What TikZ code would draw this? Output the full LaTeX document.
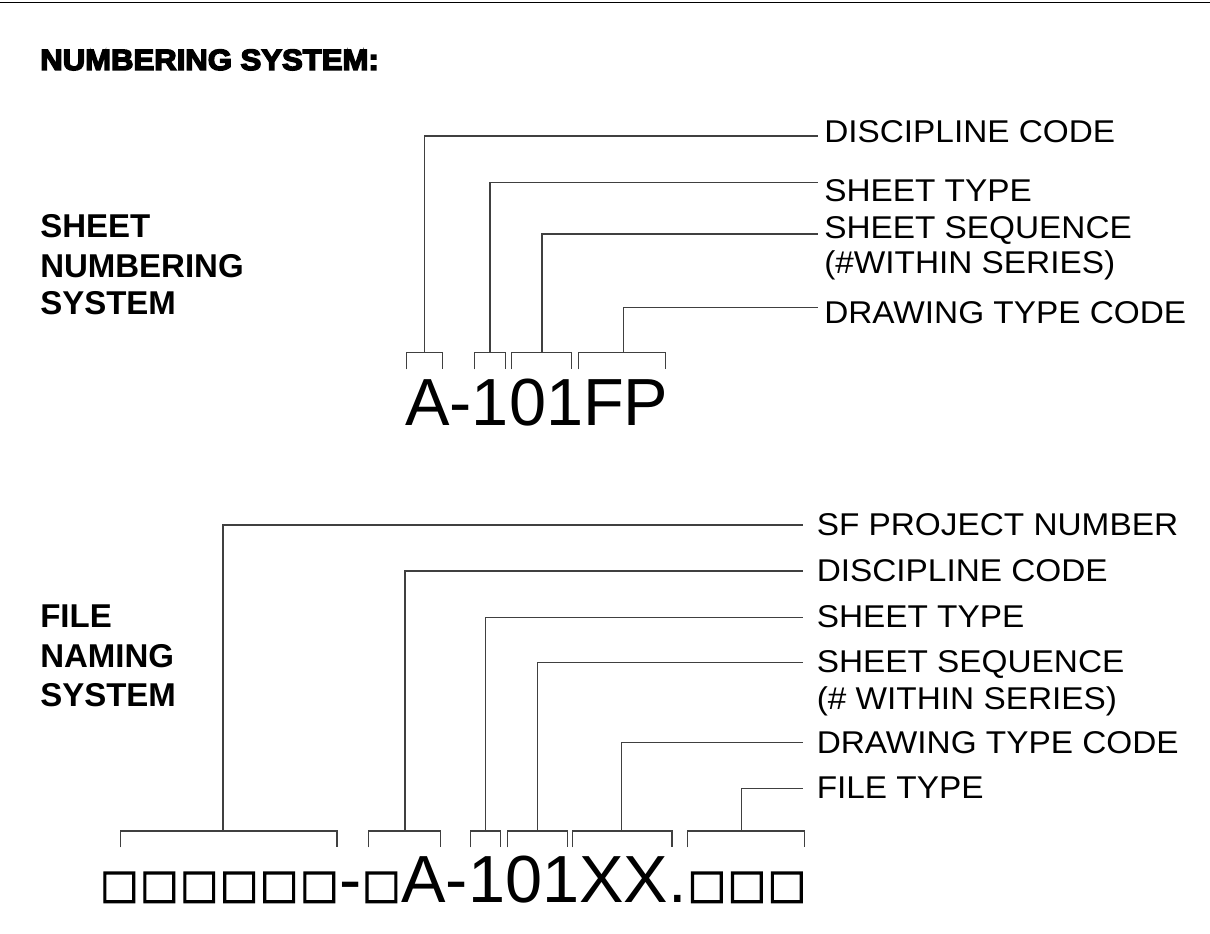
\documentclass[tikz,border=0pt]{standalone}
\usepackage{fontspec}
\setmainfont{Liberation Sans}
\newfontfamily\lblfont[FakeStretch=1.06]{Liberation Sans}
\newfontfamily\boldfont{Liberation Sans Bold}
\newfontfamily\titlefont[FakeBold=5,FakeStretch=1.06]{Liberation Sans Bold}
\newfontfamily\boxfont[FakeBold=2.5]{Liberation Sans}
\newcommand\sqbox{\makebox[30pt][c]{\boxfont\fontsize{38.5}{40}\selectfont □}}
\begin{document}
\begin{tikzpicture}[x=0.75pt,y=-0.75pt,
  lbl/.style={font=\lblfont\fontsize{23.6}{28}\selectfont, inner sep=0pt, anchor=base west},
  side/.style={font=\boldfont\fontsize{24.75}{30}\selectfont, inner sep=0pt, anchor=base west},
  code/.style={font=\fontsize{50}{60}\selectfont, inner sep=0pt, anchor=base west},
  ttl/.style={font=\titlefont\fontsize{22}{26}\selectfont, inner sep=0pt, anchor=base west},
  brk/.style={draw=black!75, line width=0.8pt}]
\useasboundingbox (0,0) rectangle (1210,934);
\draw[line width=1.1pt] (0,2.5) -- (1210,2.5);

% title
\node[ttl] (title) at (40,70) {NUMBERING SYSTEM:};

% sheet numbering system
\node[side] (s1) at (40,238) {SHEET};
\node[side] (s2) at (40,277) {NUMBERING};
\node[side] (s3) at (40,315) {SYSTEM};

\node[code] (sheetcode) at (405,425) {A-101FP};

\node[lbl] (sdisc) at (824,142.5) {DISCIPLINE CODE};
\node[lbl] (stype) at (824,202) {SHEET TYPE};
\node[lbl] (sseq) at (824,239) {SHEET SEQUENCE};
\node[lbl] (sseqb) at (824,273.5) {(\#WITHIN SERIES)};
\node[lbl] (sdraw) at (824,323.5) {DRAWING TYPE CODE};

\coordinate (sl1) at (818,136);
\coordinate (sl2) at (818,182.3);
\coordinate (sl3) at (818,234);
\coordinate (sl4) at (818,307.7);

\draw[brk] (406.7,369.3) -- (406.7,352.7) -- (442.3,352.7) -- (442.3,369.3);
\draw[brk] (474.7,369.3) -- (474.7,352.7) -- (505.3,352.7) -- (505.3,369.3);
\draw[brk] (511.7,369.3) -- (511.7,352.7) -- (571.7,352.7) -- (571.7,369.3);
\draw[brk] (578.7,369.3) -- (578.7,352.7) -- (665.3,352.7) -- (665.3,369.3);
\coordinate (sb1) at (424.3,352.7);
\coordinate (sb2) at (490,352.7);
\coordinate (sb3) at (542,352.7);
\coordinate (sb4) at (623.3,352.7);
\draw[brk] (sb1) |- (sl1);
\draw[brk] (sb2) |- (sl2);
\draw[brk] (sb3) |- (sl3);
\draw[brk] (sb4) |- (sl4);

% file naming system
\node[side] (f1) at (40,627.5) {FILE};
\node[side] (f2) at (40,667) {NAMING};
\node[side] (f3) at (40,706) {SYSTEM};

\node[code] (filecode) at (99,902.7) {\sqbox\sqbox\sqbox\sqbox\sqbox\sqbox-\sqbox A-101XX.\sqbox\sqbox\sqbox};

\node[lbl] (fproj) at (816.5,535) {SF PROJECT NUMBER};
\node[lbl] (fdisc) at (816.5,581) {DISCIPLINE CODE};
\node[lbl] (ftype) at (816.5,627) {SHEET TYPE};
\node[lbl] (fseq) at (816.5,672) {SHEET SEQUENCE};
\node[lbl] (fseqb) at (816.5,709) {(\# WITHIN SERIES)};
\node[lbl] (fdraw) at (816.5,753) {DRAWING TYPE CODE};
\node[lbl] (ffile) at (816.5,798) {FILE TYPE};

\coordinate (fl1) at (803,525);
\coordinate (fl2) at (803,571);
\coordinate (fl3) at (803,617.3);
\coordinate (fl4) at (803,662.3);
\coordinate (fl5) at (803,742.7);
\coordinate (fl6) at (803,788.3);

\draw[brk] (120.7,847.3) -- (120.7,831) -- (337,831) -- (337,847.3);
\draw[brk] (368.7,847.3) -- (368.7,831) -- (440.7,831) -- (440.7,847.3);
\draw[brk] (470.5,847.3) -- (470.5,831) -- (500.3,831) -- (500.3,847.3);
\draw[brk] (507.3,847.3) -- (507.3,831) -- (567.3,831) -- (567.3,847.3);
\draw[brk] (572.7,847.3) -- (572.7,831) -- (672,831) -- (672,847.3);
\draw[brk] (687.7,847.3) -- (687.7,831) -- (804.3,831) -- (804.3,847.3);
\coordinate (fb1) at (223,831);
\coordinate (fb2) at (405,831);
\coordinate (fb3) at (485.7,831);
\coordinate (fb4) at (537.5,831);
\coordinate (fb5) at (621.3,831);
\coordinate (fb6) at (741.7,831);
\draw[brk] (fb1) |- (fl1);
\draw[brk] (fb2) |- (fl2);
\draw[brk] (fb3) |- (fl3);
\draw[brk] (fb4) |- (fl4);
\draw[brk] (fb5) |- (fl5);
\draw[brk] (fb6) |- (fl6);
\end{tikzpicture}
\end{document}
